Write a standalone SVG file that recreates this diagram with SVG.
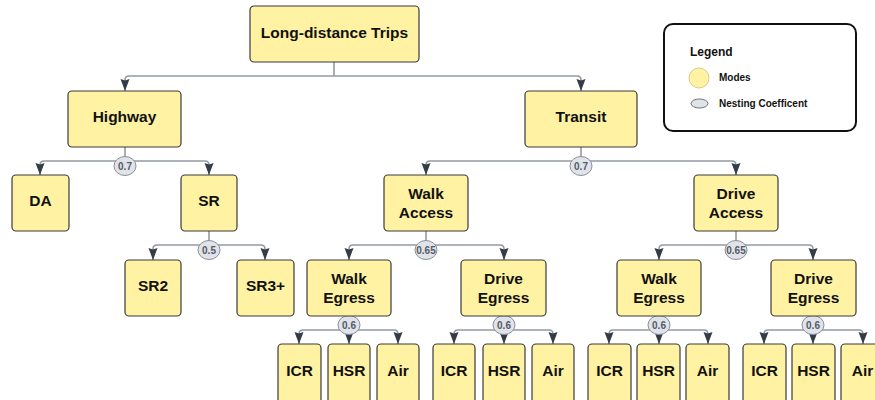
<svg xmlns="http://www.w3.org/2000/svg" width="875" height="400" viewBox="0 0 875 400">
<defs>
<style>
.box{fill:#fff2a3;stroke:#3a3a3a;stroke-width:1.2}
.t{font-family:"Liberation Sans",Arial,sans-serif;font-weight:bold;font-size:15.5px;fill:#111;text-anchor:middle}
.c{fill:none;stroke:#949aa3;stroke-width:1.6}
.nc{fill:#e0e3e9;stroke:#8a8f98;stroke-width:1}
.nt{font-family:"Liberation Sans",Arial,sans-serif;font-weight:bold;font-size:10px;fill:#555b64;text-anchor:middle}
.lg{font-family:"Liberation Sans",Arial,sans-serif;font-weight:bold;fill:#111}
</style>
<marker id="a" markerUnits="userSpaceOnUse" markerWidth="10" markerHeight="12" refX="5" refY="12" orient="0" viewBox="0 0 10 12" overflow="visible">
<path d="M0.5,0 L5,1.5 L9.5,0 L5,12 Z" fill="#343c47"/>
</marker>
</defs>
<rect width="875" height="400" fill="#fff"/>

<g id="connectors">
<!-- root -->
<path class="c" d="M334,62 V76"/>
<path class="c" d="M334,76 H129 Q125,76 125,80 V91" marker-end="url(#a)"/>
<path class="c" d="M334,76 H577 Q581,76 581,80 V91" marker-end="url(#a)"/>
<!-- highway -->
<path class="c" d="M125,147 V161"/>
<path class="c" d="M125,161 H44 Q40,161 40,165 V175" marker-end="url(#a)"/>
<path class="c" d="M125,161 H205 Q209,161 209,165 V175" marker-end="url(#a)"/>
<!-- transit -->
<path class="c" d="M581,147 V161"/>
<path class="c" d="M581,161 H430 Q426,161 426,165 V175" marker-end="url(#a)"/>
<path class="c" d="M581,161 H732 Q736,161 736,165 V175" marker-end="url(#a)"/>
<!-- SR -->
<path class="c" d="M209,231 V245"/>
<path class="c" d="M209,245 H157 Q153,245 153,249 V260" marker-end="url(#a)"/>
<path class="c" d="M209,245 H261 Q265,245 265,249 V260" marker-end="url(#a)"/>
<!-- walk access -->
<path class="c" d="M426,231 V245"/>
<path class="c" d="M426,245 H353 Q349,245 349,249 V260" marker-end="url(#a)"/>
<path class="c" d="M426,245 H500 Q504,245 504,249 V260" marker-end="url(#a)"/>
<!-- drive access -->
<path class="c" d="M736,231 V245"/>
<path class="c" d="M736,245 H663 Q659,245 659,249 V260" marker-end="url(#a)"/>
<path class="c" d="M736,245 H809 Q813,245 813,249 V260" marker-end="url(#a)"/>
<!-- egress level -->
<path class="c" d="M349,316 V330"/>
<path class="c" d="M349,330 H303 Q299,330 299,334 V344" marker-end="url(#a)"/>
<path class="c" d="M349,330 H394 Q398,330 398,334 V344" marker-end="url(#a)"/>
<path class="c" d="M349,330 V344" marker-end="url(#a)"/>
<path class="c" d="M504,316 V330"/>
<path class="c" d="M504,330 H458 Q454,330 454,334 V344" marker-end="url(#a)"/>
<path class="c" d="M504,330 H549 Q553,330 553,334 V344" marker-end="url(#a)"/>
<path class="c" d="M504,330 V344" marker-end="url(#a)"/>
<path class="c" d="M659,316 V330"/>
<path class="c" d="M659,330 H613 Q609,330 609,334 V344" marker-end="url(#a)"/>
<path class="c" d="M659,330 H704 Q708,330 708,334 V344" marker-end="url(#a)"/>
<path class="c" d="M659,330 V344" marker-end="url(#a)"/>
<path class="c" d="M813,316 V330"/>
<path class="c" d="M813,330 H768 Q764,330 764,334 V344" marker-end="url(#a)"/>
<path class="c" d="M813,330 H859 Q863,330 863,334 V344" marker-end="url(#a)"/>
<path class="c" d="M813,330 V344" marker-end="url(#a)"/>
</g>

<g id="coefficients">
<g id="n-highway"><ellipse class="nc" cx="125" cy="166" rx="11" ry="9.5"/><text class="nt" x="125" y="169.5">0.7</text></g>
<g id="n-transit"><ellipse class="nc" cx="581" cy="166" rx="11" ry="9.5"/><text class="nt" x="581" y="169.5">0.7</text></g>
<g id="n-sr"><ellipse class="nc" cx="209" cy="250" rx="11" ry="9.5"/><text class="nt" x="209" y="253.5">0.5</text></g>
<g id="n-wa"><ellipse class="nc" cx="426" cy="250" rx="11" ry="9.5"/><text class="nt" x="426" y="253.5">0.65</text></g>
<g id="n-da"><ellipse class="nc" cx="736" cy="250" rx="11" ry="9.5"/><text class="nt" x="736" y="253.5">0.65</text></g>
<g id="n-we1"><ellipse class="nc" cx="349" cy="325" rx="11" ry="9.5"/><text class="nt" x="349" y="328.5">0.6</text></g>
<g id="n-de1"><ellipse class="nc" cx="504" cy="325" rx="11" ry="9.5"/><text class="nt" x="504" y="328.5">0.6</text></g>
<g id="n-we2"><ellipse class="nc" cx="659" cy="325" rx="11" ry="9.5"/><text class="nt" x="659" y="328.5">0.6</text></g>
<g id="n-de2"><ellipse class="nc" cx="813" cy="325" rx="11" ry="9.5"/><text class="nt" x="813" y="328.5">0.6</text></g>
</g>

<g id="root"><rect class="box" x="250" y="6" width="169" height="56" rx="4"/><text class="t" x="334.5" y="38">Long-distance Trips</text></g>
<g id="highway"><rect class="box" x="68" y="91" width="113" height="56" rx="4"/><text class="t" x="124.5" y="122">Highway</text></g>
<g id="transit"><rect class="box" x="525" y="91" width="112" height="56" rx="4"/><text class="t" x="581" y="122">Transit</text></g>
<g id="da"><rect class="box" x="12" y="175" width="57" height="56" rx="4"/><text class="t" x="40.5" y="206">DA</text></g>
<g id="sr"><rect class="box" x="181" y="175" width="56" height="56" rx="4"/><text class="t" x="209" y="206">SR</text></g>
<g id="walk-access"><rect class="box" x="384" y="175" width="84" height="56" rx="4"/><text class="t" x="426" y="199">Walk</text><text class="t" x="426" y="218">Access</text></g>
<g id="drive-access"><rect class="box" x="694" y="175" width="84" height="56" rx="4"/><text class="t" x="736" y="199">Drive</text><text class="t" x="736" y="218">Access</text></g>
<g id="sr2"><rect class="box" x="125" y="260" width="56" height="56" rx="4"/><text class="t" x="153" y="291">SR2</text></g>
<g id="sr3"><rect class="box" x="237" y="260" width="57" height="56" rx="4"/><text class="t" x="265.5" y="291">SR3+</text></g>
<g id="walk-egress-1"><rect class="box" x="307" y="260" width="84" height="56" rx="4"/><text class="t" x="349" y="284">Walk</text><text class="t" x="349" y="303">Egress</text></g>
<g id="drive-egress-1"><rect class="box" x="461" y="260" width="85" height="56" rx="4"/><text class="t" x="503.5" y="284">Drive</text><text class="t" x="503.5" y="303">Egress</text></g>
<g id="walk-egress-2"><rect class="box" x="617" y="260" width="84" height="56" rx="4"/><text class="t" x="659" y="284">Walk</text><text class="t" x="659" y="303">Egress</text></g>
<g id="drive-egress-2"><rect class="box" x="771" y="260" width="85" height="56" rx="4"/><text class="t" x="813.5" y="284">Drive</text><text class="t" x="813.5" y="303">Egress</text></g>

<g id="icr-1"><rect class="box" x="278" y="344" width="43" height="60" rx="4"/><text class="t" x="299.5" y="376">ICR</text></g>
<g id="hsr-1"><rect class="box" x="328" y="344" width="42" height="60" rx="4"/><text class="t" x="349" y="376">HSR</text></g>
<g id="air-1"><rect class="box" x="377" y="344" width="42" height="60" rx="4"/><text class="t" x="398" y="376">Air</text></g>
<g id="icr-2"><rect class="box" x="433" y="344" width="42" height="60" rx="4"/><text class="t" x="454" y="376">ICR</text></g>
<g id="hsr-2"><rect class="box" x="483" y="344" width="42" height="60" rx="4"/><text class="t" x="504" y="376">HSR</text></g>
<g id="air-2"><rect class="box" x="532" y="344" width="42" height="60" rx="4"/><text class="t" x="553" y="376">Air</text></g>
<g id="icr-3"><rect class="box" x="588" y="344" width="43" height="60" rx="4"/><text class="t" x="609.5" y="376">ICR</text></g>
<g id="hsr-3"><rect class="box" x="637" y="344" width="43" height="60" rx="4"/><text class="t" x="658.5" y="376">HSR</text></g>
<g id="air-3"><rect class="box" x="686" y="344" width="43" height="60" rx="4"/><text class="t" x="707.5" y="376">Air</text></g>
<g id="icr-4"><rect class="box" x="743" y="344" width="43" height="60" rx="4"/><text class="t" x="764.5" y="376">ICR</text></g>
<g id="hsr-4"><rect class="box" x="792" y="344" width="43" height="60" rx="4"/><text class="t" x="813.5" y="376">HSR</text></g>
<g id="air-4"><rect class="box" x="841" y="344" width="43" height="60" rx="4"/><text class="t" x="862.5" y="376">Air</text></g>

<g id="legend">
<rect x="664" y="24" width="192" height="107" rx="9" fill="#fff" stroke="#111" stroke-width="2"/>
<text class="lg" x="690" y="56" font-size="12">Legend</text>
<circle cx="699" cy="78" r="10" fill="#fff2a3" stroke="#d8cf86" stroke-width="1"/>
<text class="lg" x="719" y="81" font-size="10">Modes</text>
<ellipse cx="699.5" cy="103.5" rx="8.5" ry="4.5" fill="#e0e3e9" stroke="#6d727a" stroke-width="1"/>
<text class="lg" x="719" y="106.5" font-size="10">Nesting Coefficent</text>
</g>
</svg>
